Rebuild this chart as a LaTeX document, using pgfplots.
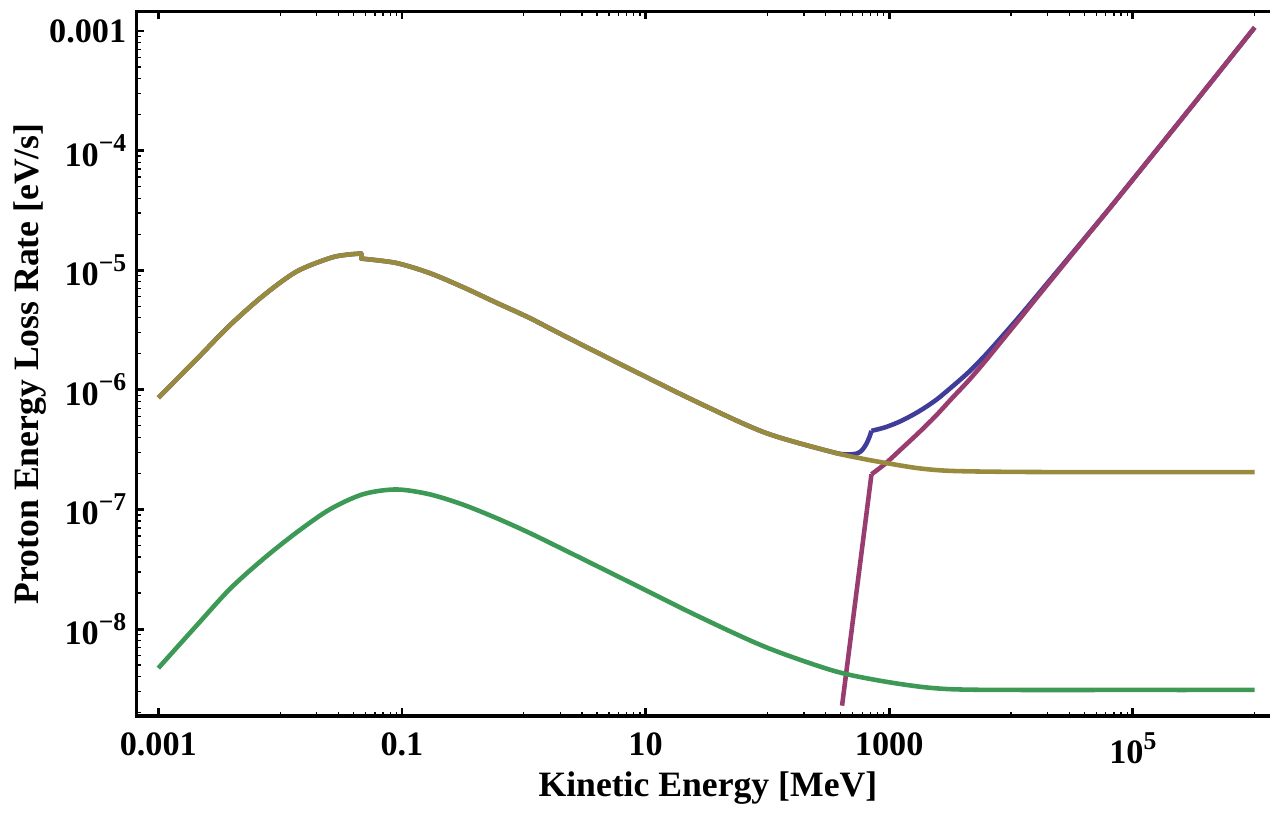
\documentclass[border=0pt]{standalone}
\usepackage{pgfplots}
\pgfplotsset{compat=1.18}
\usepackage{fontspec}
\setmainfont{Liberation Serif}
\definecolor{mblue}{rgb}{0.2472,0.24,0.6}
\definecolor{mmag}{rgb}{0.6,0.24,0.4429}
\definecolor{mgold}{rgb}{0.6,0.547,0.24}
\definecolor{mgreen}{rgb}{0.24,0.6,0.337}
\newcommand{\sups}[1]{\raisebox{0.42em}{\fontsize{9}{9}\selectfont #1}}
\begin{document}
\begin{tikzpicture}
\begin{axis}[
  name=ax,
  xmode=log, ymode=log,
  scale only axis, width=397.36pt, height=246.93pt,
  xmin=6.62e-4, xmax=1.34e6, ymin=1.88e-9, ymax=1.455e-3,
  axis line style={draw=none},
  tick align=inside,
  ytick pos=left,
  xtick={1e-3,1e-1,1e1,1e3,1e5},
  xticklabels={0.001,0.1,10,1000,10\sups{5}},
  minor xtick={0.01,0.02,0.03,0.04,0.05,0.06,0.07,0.08,0.09,1,2,3,4,5,6,7,8,9,100,200,300,400,500,600,700,800,900,1e4,2e4,3e4,4e4,5e4,6e4,7e4,8e4,9e4,1e6},
  ytick={1e-8,1e-7,1e-6,1e-5,1e-4,1e-3},
  yticklabels={10\sups{−8},10\sups{−7},10\sups{−6},10\sups{−5},10\sups{−4},0.001},
  minor ytick={2e-9,3e-9,4e-9,5e-9,6e-9,7e-9,8e-9,9e-9,2e-8,3e-8,4e-8,5e-8,6e-8,7e-8,8e-8,9e-8,2e-7,3e-7,4e-7,5e-7,6e-7,7e-7,8e-7,9e-7,2e-6,3e-6,4e-6,5e-6,6e-6,7e-6,8e-6,9e-6,2e-5,3e-5,4e-5,5e-5,6e-5,7e-5,8e-5,9e-5,2e-4,3e-4,4e-4,5e-4,6e-4,7e-4,8e-4,9e-4},
  major tick length=2.8pt, minor tick length=1.5pt,
  every major tick/.style={line width=1pt, black},
  every minor tick/.style={line width=0.45pt, black},
  tick label style={font=\fontsize{12}{14}\selectfont\bfseries},
  xticklabel style={anchor=north, inner sep=0pt, yshift=-5.6pt},
  yticklabel style={anchor=east, inner sep=0pt, xshift=-3.4pt},
  xlabel={Kinetic Energy [MeV]},
  ylabel={Proton Energy Loss Rate [eV/s]},
  every axis x label/.style={at={(axis description cs:0.504,-0.1148)}, anchor=base, font=\fontsize{12.5}{14}\selectfont\bfseries},
  every axis y label/.style={at={(axis description cs:-0.094,0.5)}, anchor=center, rotate=90, font=\fontsize{12.5}{14}\selectfont\bfseries},
  every axis plot/.append style={line width=1.6pt, line join=round},
]
% blue (total)
\addplot[mblue, smooth] coordinates {(1e-3,8.59e-7)(2.06e-3,1.80e-6)(3.86e-3,3.46e-6)(7.23e-3,6.10e-6)(1.36e-2,9.73e-6)(2.55e-2,1.262e-5)(3.44e-2,1.343e-5)(4.64e-2,1.38e-5)};
\addplot[mblue] coordinates {(4.62e-2,1.378e-5)(4.64e-2,1.38e-5)(4.64e-2,1.25e-5)(4.67e-2,1.249e-5)};
\addplot[mblue, smooth] coordinates {(4.65e-2,1.25e-5)(8.95e-2,1.15e-5)(0.168,9.48e-6)(0.315,7.24e-6)(0.591,5.37e-6)(1.11,4.00e-6)(2.22,2.78e-6)(7.80,1.46e-6)(27.5,7.76e-7)(96.6,4.37e-7)(340,3.02e-7)(450,2.89e-7)(545,2.94e-7)(600,3.14e-7)(650,3.54e-7)(690,4.07e-7)(715,4.54e-7)};
\addplot[mblue, smooth] coordinates {(715,4.54e-7)(931,4.87e-7)(1250,5.49e-7)(1746,6.59e-7)(2400,8.17e-7)(3273,1.06e-6)(4500,1.41e-6)(6152,1.95e-6)(8400,2.78e-6)(11520,4.02e-6)(15800,5.89e-6)(40600,1.87e-5)(73600,3.90e-5)(3e5,2.30e-4)(1e6,1.07e-3)};
% magenta (pion production)
\addplot[mmag] coordinates {(410,2.29e-9)(715,1.97e-7)};
\addplot[mmag, smooth] coordinates {(715,1.97e-7)(931,2.42e-7)(1250,3.19e-7)(1746,4.38e-7)(2400,6.03e-7)(3273,8.50e-7)(4500,1.20e-6)(6152,1.74e-6)(8400,2.57e-6)(11520,3.81e-6)(15800,5.68e-6)(40600,1.85e-5)(73600,3.88e-5)(3e5,2.30e-4)(1e6,1.07e-3)};
% gold (ionization)
\addplot[mgold, smooth] coordinates {(1e-3,8.59e-7)(2.06e-3,1.80e-6)(3.86e-3,3.46e-6)(7.23e-3,6.10e-6)(1.36e-2,9.73e-6)(2.55e-2,1.262e-5)(3.44e-2,1.343e-5)(4.64e-2,1.38e-5)};
\addplot[mgold] coordinates {(4.62e-2,1.378e-5)(4.64e-2,1.38e-5)(4.64e-2,1.25e-5)(4.67e-2,1.249e-5)};
\addplot[mgold, smooth] coordinates {(4.65e-2,1.25e-5)(8.95e-2,1.15e-5)(0.168,9.48e-6)(0.315,7.24e-6)(0.591,5.37e-6)(1.11,4.00e-6)(2.22,2.78e-6)(7.80,1.46e-6)(27.5,7.76e-7)(96.6,4.37e-7)(340,3.02e-7)(600,2.66e-7)(931,2.45e-7)(1746,2.21e-7)(3273,2.10e-7)(11520,2.06e-7)(1e5,2.05e-7)(1e6,2.05e-7)};
% green
\addplot[mgreen, smooth] coordinates {(1e-3,4.72e-9)(2.06e-3,1.07e-8)(3.86e-3,2.16e-8)(7.23e-3,3.84e-8)(1.36e-2,6.41e-8)(2.55e-2,1.00e-7)(4.78e-2,1.34e-7)(8.95e-2,1.47e-7)(0.168,1.34e-7)(0.315,1.10e-7)(0.591,8.51e-8)(1.11,6.38e-8)(2.22,4.52e-8)(7.80,2.40e-8)(27.5,1.27e-8)(96.6,7.08e-9)(340,4.52e-9)(820,3.72e-9)(2109,3.24e-9)(5420,3.11e-9)(1e5,3.10e-9)(1e6,3.10e-9)};
\end{axis}
\draw[line width=1.3pt, line join=miter] (ax.north east) -- (ax.north west) -- (ax.south west) -- (ax.south east);
\path (ax.south west) ++(-47.85pt,-32.55pt) rectangle ++(445.2pt,283.5pt);
\end{tikzpicture}
\end{document}
